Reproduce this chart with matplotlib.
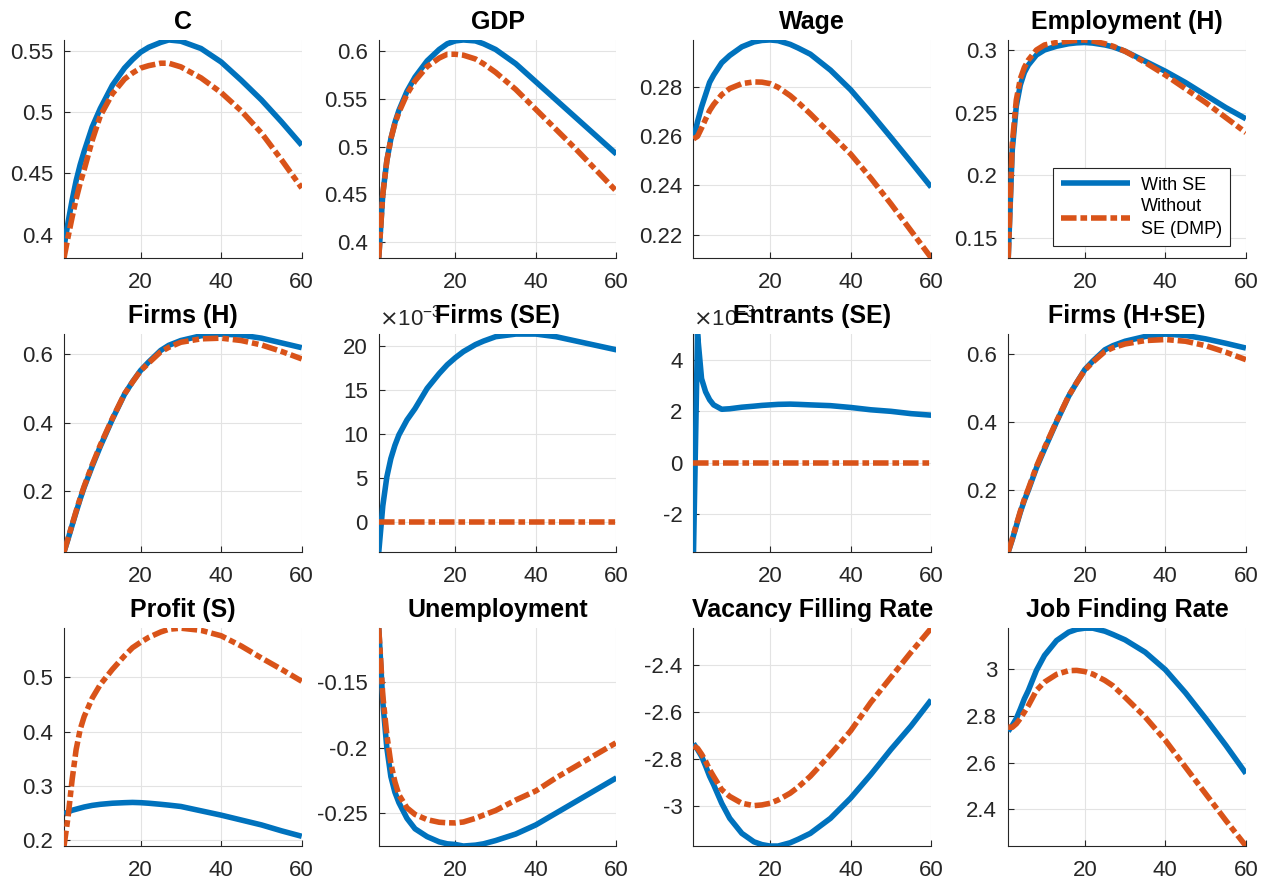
import numpy as np
import matplotlib
matplotlib.use("Agg")
import matplotlib.pyplot as plt
from matplotlib.ticker import FuncFormatter

plt.rcParams['font.family'] = ['Liberation Sans', 'DejaVu Sans']
plt.rcParams['axes.unicode_minus'] = False

t = [1, 2, 3, 4, 5, 6, 8, 10, 13, 16, 18, 20, 22, 25, 27, 30, 35, 40, 45, 50, 55, 60]

c_se = [0.390, 0.410, 0.428, 0.444, 0.457, 0.468, 0.488, 0.503, 0.522, 0.536, 0.543, 0.549, 0.553, 0.557, 0.559, 0.558, 0.552, 0.541, 0.526, 0.510, 0.492, 0.473]
c_dmp = [0.381, 0.398, 0.414, 0.429, 0.442, 0.453, 0.477, 0.497, 0.515, 0.527, 0.532, 0.536, 0.538, 0.540, 0.540, 0.537, 0.528, 0.516, 0.501, 0.483, 0.461, 0.438]

gdp_se = [0.383, 0.450, 0.485, 0.508, 0.525, 0.538, 0.558, 0.573, 0.590, 0.602, 0.608, 0.611, 0.612, 0.611, 0.608, 0.602, 0.587, 0.568, 0.549, 0.530, 0.511, 0.492]
gdp_dmp = [0.383, 0.450, 0.485, 0.508, 0.524, 0.536, 0.555, 0.569, 0.584, 0.593, 0.597, 0.597, 0.596, 0.592, 0.587, 0.578, 0.560, 0.539, 0.518, 0.497, 0.475, 0.453]

wage_se = [0.259, 0.266, 0.272, 0.277, 0.282, 0.285, 0.290, 0.293, 0.2965, 0.2985, 0.2991, 0.2993, 0.2990, 0.2975, 0.296, 0.2935, 0.287, 0.279, 0.2695, 0.2596, 0.2495, 0.2393]
wage_dmp = [0.259, 0.260, 0.2634, 0.267, 0.2705, 0.273, 0.277, 0.2795, 0.2815, 0.2822, 0.2821, 0.2815, 0.2800, 0.2766, 0.2738, 0.2692, 0.261, 0.2528, 0.243, 0.2325, 0.2215, 0.2105]

emp_se = [0.134, 0.220, 0.255, 0.272, 0.282, 0.288, 0.296, 0.300, 0.303, 0.305, 0.3057, 0.306, 0.3055, 0.304, 0.3025, 0.299, 0.291, 0.283, 0.274, 0.264, 0.254, 0.245]
emp_dmp = [0.134, 0.225, 0.260, 0.277, 0.286, 0.292, 0.300, 0.304, 0.306, 0.307, 0.3077, 0.308, 0.3072, 0.305, 0.303, 0.299, 0.290, 0.280, 0.269, 0.258, 0.246, 0.234]

firmsh_se = [0.020, 0.058, 0.098, 0.137, 0.175, 0.210, 0.272, 0.330, 0.410, 0.483, 0.520, 0.553, 0.578, 0.612, 0.627, 0.641, 0.655, 0.660, 0.657, 0.648, 0.634, 0.620]
firmsh_dmp = [0.020, 0.060, 0.100, 0.140, 0.178, 0.213, 0.276, 0.334, 0.412, 0.484, 0.519, 0.552, 0.575, 0.608, 0.621, 0.636, 0.646, 0.648, 0.641, 0.628, 0.609, 0.587]

firmsse_se = np.array([-3.45, 1.8, 5.1, 7.2, 8.7, 9.9, 11.6, 12.9, 15.2, 16.9, 17.9, 18.7, 19.4, 20.2, 20.6, 21.1, 21.4, 21.4, 21.1, 20.6, 20.1, 19.6]) * 1e-3
firmsse_dmp = np.zeros(len(t))

entr_se = np.array([-3.46, 5.0, 3.27, 2.76, 2.45, 2.25, 2.08, 2.10, 2.16, 2.20, 2.23, 2.25, 2.27, 2.28, 2.27, 2.25, 2.22, 2.15, 2.06, 2.00, 1.91, 1.85]) * 1e-3
entr_dmp = np.zeros(len(t))

firmsall_se = [0.019, 0.055, 0.095, 0.135, 0.170, 0.200, 0.265, 0.320, 0.400, 0.475, 0.515, 0.553, 0.578, 0.611, 0.623, 0.636, 0.650, 0.657, 0.653, 0.643, 0.630, 0.616]
firmsall_dmp = [0.019, 0.057, 0.098, 0.138, 0.173, 0.204, 0.269, 0.324, 0.402, 0.476, 0.515, 0.551, 0.575, 0.606, 0.617, 0.628, 0.638, 0.641, 0.636, 0.623, 0.604, 0.582]

profit_se = [0.248, 0.252, 0.255, 0.257, 0.259, 0.261, 0.264, 0.266, 0.268, 0.269, 0.2695, 0.269, 0.268, 0.266, 0.2645, 0.262, 0.254, 0.246, 0.237, 0.228, 0.217, 0.207]
profit_dmp = [0.189, 0.243, 0.311, 0.367, 0.404, 0.428, 0.462, 0.487, 0.515, 0.540, 0.555, 0.565, 0.574, 0.584, 0.589, 0.591, 0.587, 0.577, 0.558, 0.536, 0.515, 0.493]

unemp_se = [-0.1085, -0.165, -0.200, -0.222, -0.234, -0.242, -0.254, -0.262, -0.268, -0.272, -0.2735, -0.274, -0.2752, -0.2745, -0.2735, -0.271, -0.266, -0.259, -0.250, -0.241, -0.232, -0.223]
unemp_dmp = [-0.1085, -0.160, -0.190, -0.212, -0.226, -0.236, -0.246, -0.251, -0.255, -0.257, -0.2574, -0.2575, -0.2568, -0.254, -0.2515, -0.248, -0.240, -0.233, -0.223, -0.214, -0.205, -0.196]

vac_se = [-2.735, -2.76, -2.789, -2.83, -2.874, -2.91, -2.989, -3.053, -3.117, -3.153, -3.165, -3.171, -3.171, -3.157, -3.142, -3.117, -3.053, -2.967, -2.867, -2.760, -2.660, -2.549]
vac_dmp = [-2.746, -2.755, -2.78, -2.81, -2.846, -2.875, -2.931, -2.96, -2.989, -2.999, -2.996, -2.989, -2.975, -2.946, -2.92, -2.874, -2.781, -2.681, -2.56, -2.453, -2.346, -2.244]

jfr_se = [2.735, 2.76, 2.789, 2.83, 2.874, 2.91, 2.996, 3.06, 3.124, 3.16, 3.172, 3.177, 3.177, 3.164, 3.150, 3.127, 3.074, 2.999, 2.90, 2.79, 2.675, 2.554]
jfr_dmp = [2.753, 2.752, 2.767, 2.79, 2.817, 2.845, 2.91, 2.946, 2.979, 2.995, 2.996, 2.991, 2.98, 2.953, 2.93, 2.881, 2.796, 2.696, 2.581, 2.467, 2.353, 2.243]

titles = ["C", "GDP", "Wage", "Employment (H)",
          "Firms (H)", "Firms (SE)", "Entrants (SE)", "Firms (H+SE)",
          "Profit (S)", "Unemployment", "Vacancy Filling Rate", "Job Finding Rate"]
series = [(c_se, c_dmp), (gdp_se, gdp_dmp), (wage_se, wage_dmp), (emp_se, emp_dmp),
          (firmsh_se, firmsh_dmp), (firmsse_se, firmsse_dmp), (entr_se, entr_dmp), (firmsall_se, firmsall_dmp),
          (profit_se, profit_dmp), (unemp_se, unemp_dmp), (vac_se, vac_dmp), (jfr_se, jfr_dmp)]
yticks = [[0.4, 0.45, 0.5, 0.55], [0.4, 0.45, 0.5, 0.55, 0.6], [0.22, 0.24, 0.26, 0.28], [0.15, 0.2, 0.25, 0.3],
          [0.2, 0.4, 0.6], [0, 0.005, 0.01, 0.015, 0.02], [-0.002, 0, 0.002, 0.004], [0.2, 0.4, 0.6],
          [0.2, 0.3, 0.4, 0.5], [-0.25, -0.2, -0.15], [-3, -2.8, -2.6, -2.4], [2.4, 2.6, 2.8, 3]]
scaled = [5, 6]  # panels shown in units of 1e-3

blue = "#0072BD"
orange = "#D95319"
dashdot = (0, (2.8, 0.7, 1.2, 0.7))
fs = 16

fig, axes = plt.subplots(3, 4, figsize=(12.68, 8.86), dpi=100)
fig.subplots_adjust(left=0.0505, right=0.9826, bottom=0.0451, top=0.9549, wspace=0.324, hspace=0.35)

for i, ax in enumerate(axes.flat):
    se, dmp = series[i]
    l1, = ax.plot(t, se, color=blue, lw=4, solid_capstyle='butt', solid_joinstyle='round', zorder=3)
    l2, = ax.plot(t, dmp, color=orange, lw=4, linestyle=dashdot, zorder=3)
    ax.set_xlim(1, 60)
    lo = min(np.min(se), np.min(dmp))
    hi = max(np.max(se), np.max(dmp))
    ax.set_ylim(lo, hi)
    ax.set_xticks([20, 40, 60])
    ax.set_yticks(yticks[i])
    if i in scaled:
        ax.yaxis.set_major_formatter(FuncFormatter(lambda v, p: "{:g}".format(round(v * 1e3, 6))))
        ax.text(0.0, 1.015, r"$\times\mathregular{10^{-3}}$", transform=ax.transAxes,
                ha="left", va="bottom", fontsize=fs, color="#262626")
    else:
        ax.yaxis.set_major_formatter(FuncFormatter(lambda v, p: "{:g}".format(round(v, 6))))
    ax.set_title(titles[i], fontsize=18, fontweight="bold", pad=8)
    ax.grid(True, color="#e3e3e3", lw=0.8, zorder=0)
    ax.set_axisbelow(True)
    for s in ["top", "right"]:
        ax.spines[s].set_visible(False)
    for s in ["left", "bottom"]:
        ax.spines[s].set_color("#262626")
        ax.spines[s].set_linewidth(0.8)
    ax.tick_params(direction="in", length=4, width=0.8, colors="#262626", labelsize=fs)
    ax.tick_params(axis="y", pad=8)
    ax.tick_params(axis="x", pad=10)
    if i == 3:
        leg = ax.legend([l1, l2], ["With SE", "Without\nSE (DMP)"], loc="upper right",
                        bbox_to_anchor=(0.933, 0.41), borderaxespad=0, fancybox=False,
                        edgecolor="#262626", framealpha=1, fontsize=13, handlelength=3.8,
                        labelspacing=0.25, borderpad=0.45, handletextpad=0.6)
        leg.get_frame().set_linewidth(0.8)
        for txt in leg.get_texts():
            txt.set_linespacing(1.45)

plt.savefig("out.png", dpi=100)
